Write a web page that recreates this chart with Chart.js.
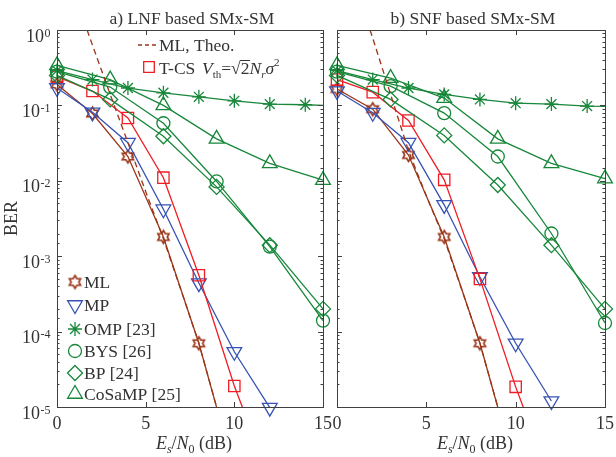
<!DOCTYPE html>
<html>
<head>
<meta charset="utf-8">
<script src="https://cdn.jsdelivr.net/npm/chart.js@4.4.1/dist/chart.umd.min.js"></script>
<style>
body { margin: 0; background: #fff; }
#wrap { position: relative; width: 616px; height: 457px; }
canvas { position: absolute; left: 0; top: 0; }
</style>
</head>
<body>
<div id="wrap">
  <canvas id="lnf" width="616" height="457"></canvas>
  <canvas id="snf" width="616" height="457"></canvas>
</div>
<script>
// Es/N0 (dB) grids used by each curve
var snrMl = [0, 2, 4, 6, 8, 10];
var snrMp = [0, 2, 4, 6, 8, 10, 12];
var snrOmp = [0, 2, 4, 6, 8, 10, 12, 14, 15];
var snrCs = [0, 3, 6, 9, 12, 15];
var snrTheoA = [1.7, 2, 3, 4, 5, 6, 7, 8, 9];
var snrTheoB = [1.85, 2, 3, 4, 5, 6, 7, 8, 9];

// a) LNF based SMx-SM
var mlA = [0.19, 0.078, 0.021, 0.0018, 7e-5, 1.4e-6];
var mpA = [0.17, 0.081, 0.032, 0.0042, 4.4e-4, 5.4e-5, 9.8e-6];
var tcsA = [0.24, 0.155, 0.068, 0.011, 5.6e-4, 1.9e-5, 1.1e-6];
var ompA = [0.29, 0.22, 0.17, 0.147, 0.13, 0.115, 0.104, 0.102, 0.1];
var bysA = [0.28, 0.175, 0.058, 0.0098, 0.00134, 1.4e-4];
var bpA = [0.25, 0.12, 0.039, 0.0083, 0.0014, 2.0e-4];
var cosampA = [0.34, 0.22, 0.1, 0.036, 0.017, 0.0102];
var theoA = [1.0, 0.63, 0.14, 0.032, 0.0072, 0.0017, 3.5e-4, 7e-5, 1e-5];

// b) SNF based SMx-SM
var mlB = [0.165, 0.089, 0.022, 0.0018, 7e-5, 1.4e-6];
var mpB = [0.155, 0.08, 0.032, 0.0048, 5.3e-4, 7e-5, 1.2e-5];
var tcsB = [0.22, 0.15, 0.063, 0.0103, 5e-4, 1.85e-5, 1.0e-6];
var ompB = [0.29, 0.22, 0.17, 0.14, 0.12, 0.107, 0.104, 0.098, 0.097];
var bysB = [0.28, 0.18, 0.079, 0.021, 0.002, 1.3e-4];
var bpB = [0.25, 0.12, 0.04, 0.0088, 0.0014, 2.0e-4];
var cosampB = [0.34, 0.23, 0.125, 0.036, 0.017, 0.0107];
var theoB = [1.0, 0.78, 0.14, 0.025, 0.0063, 0.0017, 3.5e-4, 7e-5, 1e-5];

var xTickLabels = ["0", "5", "10", "15"];
var yTickExponents = ["0", "-1", "-2", "-3", "-4", "-5"];
var legendNames = ["ML", "MP", "OMP [23]", "BYS [26]", "BP [24]", "CoSaMP [25]"];

var brown = "#9a3518";
var blue = "#3652b4";
var red = "#ee1d23";
var green = "#17873a";
var frameColor = "#404040";
var textColor = "#333333";
var serif = '"Liberation Serif", "Times New Roman", serif';

function pts(xs, ys) {
  return xs.map(function (x, i) { return { x: x, y: ys[i] }; });
}

function hexagram(color, r) {
  var c = document.createElement("canvas");
  var s = Math.ceil(2 * r + 4);
  c.width = s; c.height = s;
  var g = c.getContext("2d");
  g.strokeStyle = color;
  g.lineWidth = 1.6;
  g.beginPath();
  for (var k = 0; k < 12; k++) {
    var ang = -Math.PI / 2 + k * Math.PI / 6;
    var rr = k % 2 ? r * 0.577 : r;
    var px = s / 2 + Math.cos(ang) * rr, py = s / 2 + Math.sin(ang) * rr;
    if (k === 0) g.moveTo(px, py); else g.lineTo(px, py);
  }
  g.closePath();
  g.stroke();
  return c;
}
var hexMark = hexagram(brown, 6.5);

var openClip = { left: false, right: false, top: false, bottom: false };
var cutClip = { left: false, right: false, top: 0, bottom: 0 };

function datasets(ml, mp, tcs, omp, bys, bp, cs, snrTheo, theo) {
  function ds(data, color, style, r, extra) {
    var d = {
      data: data, borderColor: color, backgroundColor: "rgba(0,0,0,0)",
      borderWidth: 1.3, pointStyle: style, pointRadius: r,
      pointBorderColor: color, pointBackgroundColor: "rgba(0,0,0,0)",
      pointBorderWidth: 1.3, clip: openClip
    };
    for (var k in extra) d[k] = extra[k];
    return d;
  }
  return [
    ds(pts(snrTheo, theo), brown, false, 0, { borderDash: [6, 4], clip: cutClip }),
    ds(pts(snrOmp, omp), green, "star", function (c) { return c.raw && c.raw.x % 2 === 0 ? 7 : 0; }),
    ds(pts(snrCs, cs), green, "triangle", 8.5),
    ds(pts(snrCs, bys), green, "circle", 6.5),
    ds(pts(snrCs, bp), green, "rectRot", 7.5),
    ds(pts(snrMp, tcs), red, "rect", 8, { clip: cutClip }),
    ds(pts(snrMp, mp), blue, "triangle", 8.5, { pointRotation: 180 }),
    ds(pts(snrMl, ml), brown, hexMark, 6.5, { clip: cutClip })
  ];
}

function line(ctx, x1, y1, x2, y2) {
  ctx.beginPath(); ctx.moveTo(x1, y1); ctx.lineTo(x2, y2); ctx.stroke();
}

function marker(ctx, style, color, r, rot, x, y) {
  ctx.save();
  ctx.strokeStyle = color;
  ctx.fillStyle = "rgba(0,0,0,0)";
  ctx.lineWidth = 1.3;
  if (style instanceof HTMLCanvasElement) {
    ctx.drawImage(style, x - style.width / 2, y - style.height / 2);
  } else {
    Chart.helpers.drawPoint(ctx, { pointStyle: style, radius: r, rotation: rot, borderWidth: 1.3 }, x, y);
  }
  ctx.restore();
}

function decor(title, withY, withLegend) {
  return {
    id: "decor",
    afterDraw: function (chart) {
      var ctx = chart.ctx, a = chart.chartArea;
      var xs = chart.scales.x, ys = chart.scales.y;
      ctx.save();
      ctx.strokeStyle = frameColor;
      ctx.lineWidth = 1;
      ctx.strokeRect(Math.round(a.left) + 0.5, Math.round(a.top) + 0.5,
        Math.round(a.right - a.left), Math.round(a.bottom - a.top));

      ys.ticks.forEach(function (t) {
        var p = Math.round(ys.getPixelForValue(t.value)) + 0.5;
        var lg = Math.log10(t.value);
        var len = Math.abs(lg - Math.round(lg)) < 1e-9 ? 5 : 2.5;
        line(ctx, a.left, p, a.left + len, p);
        line(ctx, a.right, p, a.right - len, p);
      });
      xTickLabels.forEach(function (lab) {
        var p = Math.round(xs.getPixelForValue(Number(lab))) + 0.5;
        line(ctx, p, a.bottom, p, a.bottom - 5);
        line(ctx, p, a.top, p, a.top + 5);
      });

      ctx.fillStyle = textColor;
      ctx.textBaseline = "alphabetic";
      ctx.font = "18px " + serif;
      ctx.textAlign = "center";
      xTickLabels.forEach(function (lab) {
        ctx.fillText(lab, xs.getPixelForValue(Number(lab)), 429);
      });

      if (withY) {
        yTickExponents.forEach(function (e) {
          var p = ys.getPixelForValue(Math.pow(10, Number(e)));
          ctx.textAlign = "right";
          ctx.font = "12px " + serif;
          var ew = ctx.measureText(e).width;
          ctx.fillText(e, 50.5, p + 6.5);
          ctx.font = "18px " + serif;
          ctx.fillText("10", 50.5 - ew - 0.5, p + 11.5);
        });
        ctx.save();
        ctx.translate(17, (a.top + a.bottom) / 2);
        ctx.rotate(-Math.PI / 2);
        ctx.textAlign = "center";
        ctx.font = "18px " + serif;
        ctx.fillText("BER", 0, 0);
        ctx.restore();
      }

      // title
      ctx.font = "17.5px " + serif;
      ctx.textAlign = "center";
      ctx.fillText(title, (a.left + a.right) / 2 + 2, 24);

      // x axis title: Es/N0 (dB)
      var parts = [
        ["E", "italic 18px " + serif, 0],
        ["s", "italic 12px " + serif, 4],
        ["/", "18px " + serif, 0],
        ["N", "italic 18px " + serif, 0],
        ["0", "12px " + serif, 4],
        [" (dB)", "18px " + serif, 0]
      ];
      var tw = 0;
      parts.forEach(function (q) { ctx.font = q[1]; tw += ctx.measureText(q[0]).width; });
      var cx = (a.left + a.right) / 2 + 4 - tw / 2;
      ctx.textAlign = "left";
      parts.forEach(function (q) {
        ctx.font = q[1];
        ctx.fillText(q[0], cx, 449 + q[2]);
        cx += ctx.measureText(q[0]).width;
      });

      if (withLegend) {
        // top legend
        ctx.strokeStyle = brown;
        ctx.lineWidth = 1.3;
        ctx.setLineDash([4, 3]);
        line(ctx, 138, 45, 156, 45);
        ctx.setLineDash([]);
        ctx.font = "17.5px " + serif;
        ctx.fillText("ML, Theo.", 159, 51);
        marker(ctx, "rect", red, 7.5, 0, 149, 67);
        ctx.fillText("T-CS", 159, 74);
        var fx = 202;
        var eq = [
          ["V", "italic 17.5px " + serif, 0],
          ["th", "11px " + serif, 4],
          ["=", "17.5px " + serif, 0],
          ["\u221A", "17.5px " + serif, 0],
          ["2", "17.5px " + serif, 0, true],
          ["N", "italic 17.5px " + serif, 0],
          ["r", "italic 11px " + serif, 4],
          ["\u03C3", "italic 17.5px " + serif, 0],
          ["2", "11px " + serif, -8]
        ];
        ctx.strokeStyle = textColor;
        ctx.lineWidth = 1;
        eq.forEach(function (q) {
          ctx.font = q[1];
          var w = ctx.measureText(q[0]).width;
          ctx.fillText(q[0], fx, 74 + q[2]);
          if (q[3]) line(ctx, fx - 0.5, 60.5, fx + w + 0.5, 60.5);
          fx += w;
        });

        // bottom legend
        var rows = [282, 305, 329, 351, 373, 394];
        var marks = [
          [hexMark, brown, 6.5, 0],
          ["triangle", blue, 8.5, 180],
          ["star", green, 7, 0],
          ["circle", green, 6.5, 0],
          ["rectRot", green, 7.5, 0],
          ["triangle", green, 8.5, 0]
        ];
        ctx.font = "17.5px " + serif;
        legendNames.forEach(function (name, i) {
          var m = marks[i];
          marker(ctx, m[0], m[1], m[2], m[3], 75, rows[i]);
          ctx.fillStyle = textColor;
          ctx.fillText(name, 84, rows[i] + 6);
        });
      }
      ctx.restore();
    }
  };
}

function makeChart(id, padL, padR, title, withY, withLegend, sets) {
  return new Chart(id, {
    type: "line",
    data: { datasets: sets },
    options: {
      responsive: false,
      animation: false,
      layout: { padding: { left: padL, right: padR, top: 30, bottom: 50 } },
      plugins: { legend: { display: false }, tooltip: { enabled: false } },
      elements: { line: { tension: 0 } },
      scales: {
        x: {
          type: "linear", min: 0, max: 15,
          ticks: { display: false, stepSize: 5 },
          grid: { display: false }, border: { display: false },
          afterFit: function (s) { s.height = 0; }
        },
        y: {
          type: "logarithmic", min: 1e-5, max: 1,
          ticks: { display: false },
          grid: { display: false }, border: { display: false },
          afterFit: function (s) { s.width = 0; }
        }
      }
    },
    plugins: [decor(title, withY, withLegend)]
  });
}

makeChart("lnf", 57, 293, "a) LNF based SMx-SM", true, true,
  datasets(mlA, mpA, tcsA, ompA, bysA, bpA, cosampA, snrTheoA, theoA));
makeChart("snf", 337, 11, "b) SNF based SMx-SM", false, false,
  datasets(mlB, mpB, tcsB, ompB, bysB, bpB, cosampB, snrTheoB, theoB));
</script>
</body>
</html>
